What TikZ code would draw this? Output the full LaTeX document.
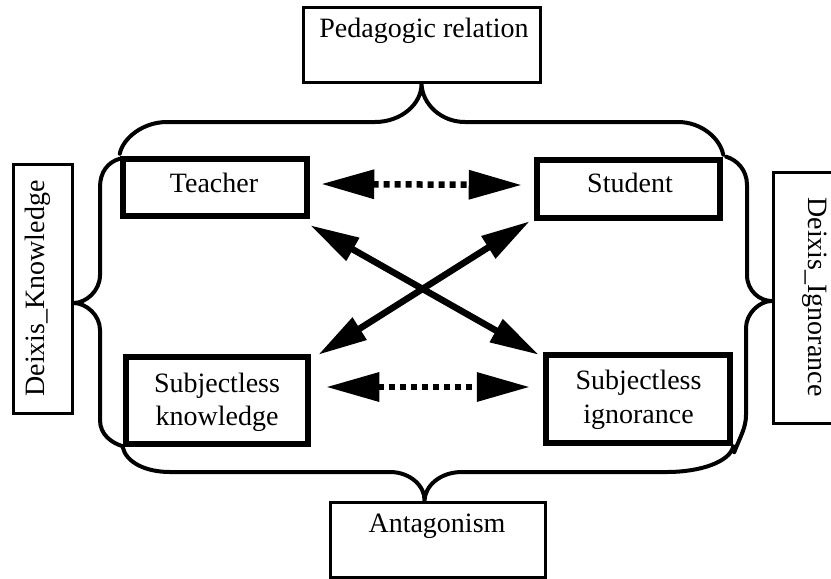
\documentclass[tikz,border=0pt]{standalone}
\usepackage{fontspec}
\setmainfont{Liberation Serif}
\usetikzlibrary{arrows.meta}
\begin{document}
\begin{tikzpicture}[x=1pt,y=-1pt,
  font=\fontsize{28}{33}\selectfont,
  mainbox/.style={draw, line width=6.5pt, inner sep=0pt},
  labelbox/.style={draw, line width=3pt, inner sep=0pt},
  txt/.style={anchor=base, inner sep=0pt},
  brace/.style={line width=4pt, line cap=round, line join=round},
  biarrow/.style={line width=6.5pt, {Triangle[length=49pt,width=25pt]}-{Triangle[length=49pt,width=25pt]}},
  dotarrow/.style={line width=6.5pt, dash pattern=on 6pt off 5pt, {Triangle[length=53pt,width=28pt]}-{Triangle[length=53pt,width=28pt]}}
]
\fill[white] (0,0) rectangle (831,579);
\useasboundingbox (0,0) rectangle (831,579);

% label boxes
\node[labelbox, minimum width=237pt, minimum height=75pt] (ped) at (421.5,44.5) {};
\node[labelbox, minimum width=215pt, minimum height=75pt] (ant) at (437.5,539.5) {};
\node[labelbox, minimum width=59pt, minimum height=249pt] (dk) at (42.5,288.5) {};
\node[labelbox, minimum width=94pt, minimum height=251pt] (di) at (820,297.5) {};

% main boxes
\node[mainbox, minimum width=184pt, minimum height=57pt] (teacher) at (215,187.5) {};
\node[mainbox, minimum width=183pt, minimum height=58pt] (student) at (628.5,189) {};
\node[mainbox, minimum width=182pt, minimum height=87pt] (sk) at (217,400.5) {};
\node[mainbox, minimum width=184pt, minimum height=88pt] (si) at (638,399) {};

% texts
\node[txt] (ped-t) at (424,37) {Pedagogic relation};
\node[txt] (ant-t) at (437,532) {Antagonism};
\node[txt, rotate=90] (dk-t) at (44,288.5) {Deixis\_Knowledge};
\node[txt, rotate=-90] (di-t) at (808,297) {Deixis\_Ignorance};
\node[txt] (teacher-t) at (214,192) {Teacher};
\node[txt] (student-t) at (630,192) {Student};
\node[txt] (sk-t1) at (217,392) {Subjectless};
\node[txt] (sk-t2) at (217,425) {knowledge};
\node[txt] (si-t1) at (638.5,389) {Subjectless};
\node[txt] (si-t2) at (638.5,423) {ignorance};

% braces
\draw[brace] ([yshift=2pt]teacher.north west) .. controls (123,138) and (143,122) .. (167,122)
  -- (375,122) .. controls (401,122) and (422,104) .. (ped.south)
  .. controls (422,104) and (441,122) .. (465,122)
  -- (678,122) .. controls (701,122) and (720,138) .. ([yshift=2pt]student.north east);
\draw[brace] (sk.south west) .. controls (126,462) and (145,472) .. (170,472)
  -- (390,472) .. controls (410,472) and (425,486) .. ([xshift=-13pt]ant.north)
  .. controls (425,486) and (440,472) .. (462,472)
  -- (667,472) .. controls (700,472) and (730,462) .. (si.south east);
\draw[brace] ([yshift=-3pt]teacher.north west) .. controls (108,162) and (100,172) .. (100,187)
  -- (100,275) .. controls (100,291) and (86,303) .. ([yshift=-14.5pt]dk.east)
  .. controls (86,303) and (100,315) .. (100,330)
  -- (100,420) .. controls (100,435) and (112,443) .. ([yshift=1pt]sk.south west);
\draw[brace] ([xshift=3pt]student.north east) .. controls (737,160) and (747,170) .. (747,185)
  -- (747,275) .. controls (747,291) and (760,301) .. ([yshift=-3.5pt]di.west)
  .. controls (760,301) and (746,313) .. (746,328)
  -- (746,415) .. controls (746,428) and (740,437) .. ([xshift=1pt,yshift=-6pt]si.south east);

% arrows
\draw[dotarrow] ([xshift=11pt,yshift=3.5pt]teacher.east) -- ([xshift=-12pt,yshift=4pt]student.west);
\draw[dotarrow] ([xshift=15pt,yshift=13.5pt]sk.east) -- ([xshift=-13pt,yshift=12pt]si.west);
\draw[biarrow] ([yshift=-6pt]teacher.south east) -- ([xshift=-4pt,yshift=-3pt]si.north west);
\draw[biarrow] ([xshift=-4pt]student.south west) -- ([xshift=7pt,yshift=-1pt]sk.north east);
\end{tikzpicture}
\end{document}
